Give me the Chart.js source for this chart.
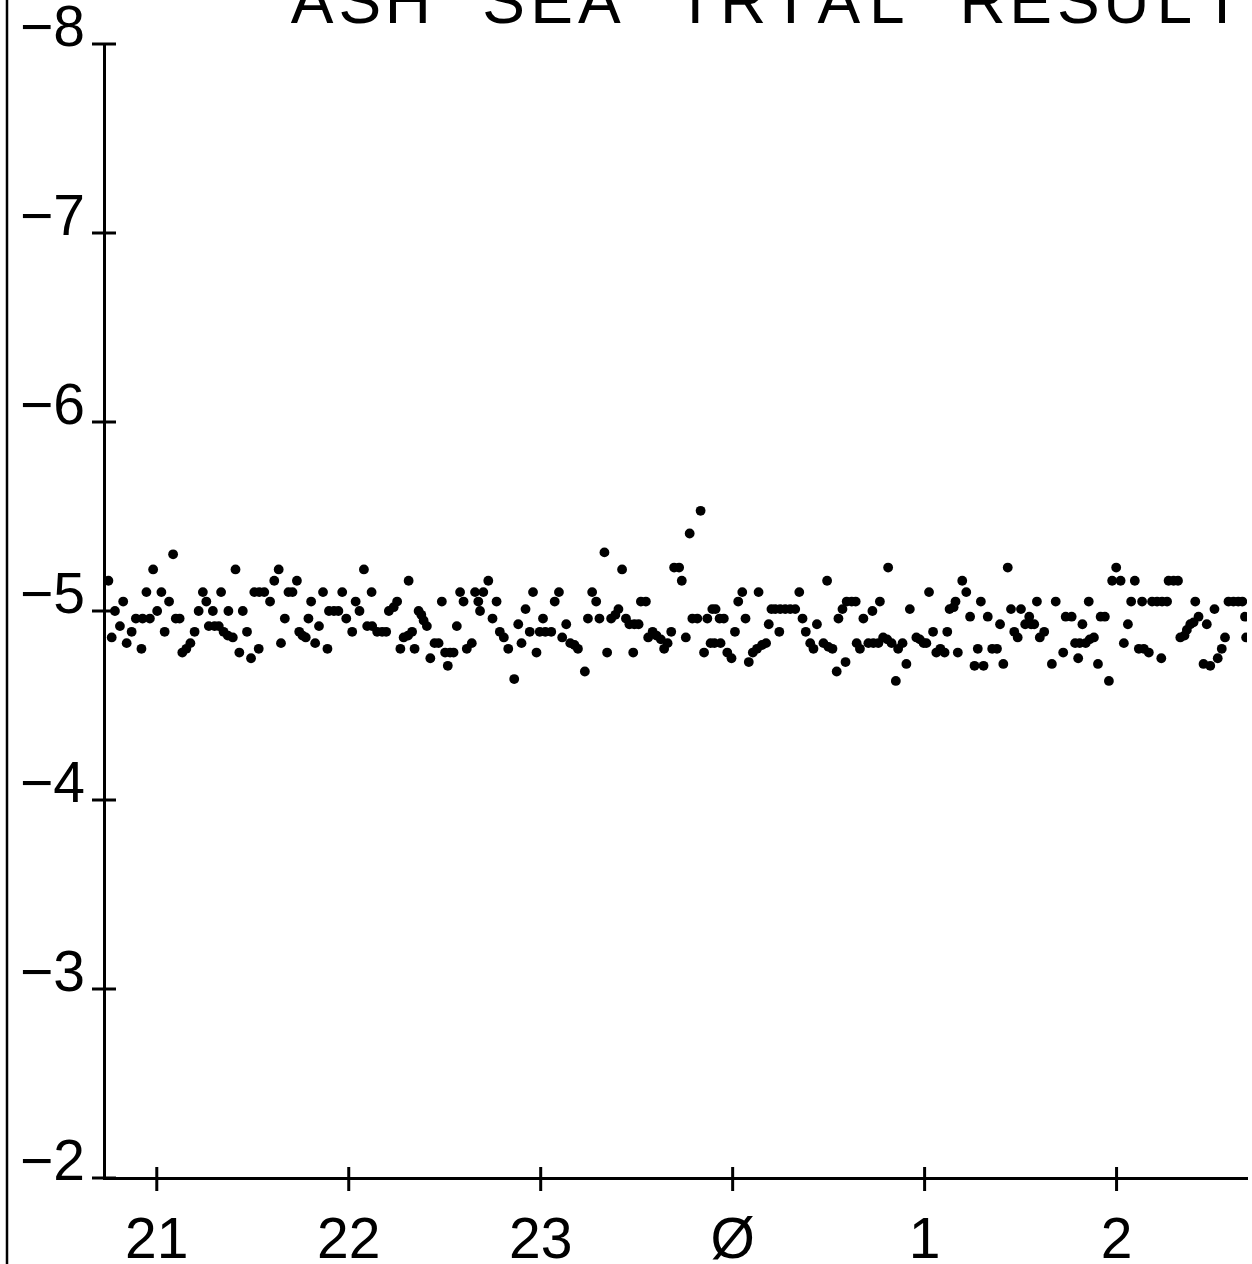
<!DOCTYPE html>
<html><head><meta charset="utf-8">
<script src="https://cdn.jsdelivr.net/npm/chart.js@4.4.1/dist/chart.umd.min.js"></script>
<style>html,body{margin:0;padding:0;background:#fff;overflow:hidden}#wrap{width:1252px;height:1264px}</style>
</head><body><div id="wrap"><canvas id="c" width="1252" height="1264"></canvas></div>
<script>
const TITLE = 'ASH SEA TRIAL RESULT';
const xTickValues = [21, 22, 23, 24, 25, 26];
const xTickLabels = ['21', '22', '23', 'Ø', '1', '2'];
const yTickValues = [-8, -7, -6, -5, -4, -3, -2];
const yTickLabels = ['−8', '−7', '−6', '−5', '−4', '−3', '−2'];

// time in hours (24 = Ø, 25 = 1, 26 = 2)
const sampleHours = [
20.748,20.782,20.765,20.825,20.808,20.843,20.869,20.891,20.920,20.946,
20.926,20.964,20.981,21.002,21.024,21.041,21.064,21.085,21.099,21.119,
21.133,21.154,21.175,21.197,21.218,21.240,21.258,21.271,21.301,21.323,
21.292,21.335,21.348,21.370,21.373,21.396,21.410,21.430,21.448,21.470,
21.491,21.508,21.534,21.560,21.531,21.590,21.612,21.635,21.647,21.667,
21.686,21.707,21.730,21.742,21.759,21.776,21.790,21.804,21.825,21.845,
21.866,21.889,21.897,21.923,21.946,21.966,21.987,22.018,22.036,22.056,
22.079,22.096,22.122,22.119,22.148,22.174,22.195,22.209,22.234,22.252,
22.269,22.286,22.309,22.330,22.312,22.343,22.364,22.378,22.390,22.407,
22.425,22.447,22.468,22.485,22.502,22.528,22.546,22.516,22.563,22.580,
22.598,22.615,22.641,22.658,22.675,22.684,22.701,
22.727,22.770,22.749,22.787,22.808,22.831,22.862,22.883,22.900,22.921,
22.943,22.960,22.978,22.995,23.024,23.055,23.012,23.073,23.095,23.112,
23.133,23.154,23.176,23.194,23.230,23.246,23.268,23.289,23.306,23.332,
23.346,23.367,23.389,23.405,23.424,23.444,23.462,23.488,23.510,23.482,
23.522,23.548,23.560,23.583,23.603,23.626,23.643,23.661,23.680,23.695,
23.721,23.735,23.756,23.776,23.790,23.816,23.833,23.851,23.868,23.894,
23.911,23.932,23.954,23.885,23.905,23.937,23.972,23.994,24.012,24.029,
24.050,24.067,24.084,24.105,24.127,24.153,24.174,24.135,24.188,24.202,
24.222,24.248,24.274,24.300,24.326,24.243,24.347,24.364,24.381,24.404,
24.421,24.439,24.473,24.499,24.520,24.492,24.542,24.551,24.572,24.594,
24.620,24.641,24.588,24.646,24.663,24.681,
24.728,24.767,24.707,24.733,24.759,24.784,24.805,24.828,24.810,24.850,
24.862,24.885,24.905,24.923,24.957,24.975,24.995,25.009,25.023,25.044,
25.061,25.082,25.104,25.118,25.130,25.151,25.161,25.173,25.196,25.217,
25.237,25.260,25.307,25.277,25.293,25.329,25.352,25.377,25.393,25.410,
25.433,25.450,25.467,25.485,25.502,25.524,25.545,25.555,25.571,25.585,
25.600,25.623,25.663,25.683,25.722,25.735,25.766,25.784,25.808,25.800,
25.822,25.839,25.860,25.882,25.855,25.903,25.917,25.939,25.960,25.977,
25.998,26.021,26.038,26.059,26.076,26.095,26.116,26.142,26.168,26.133,
26.185,26.211,26.237,26.263,26.233,26.271,26.297,26.320,26.332,26.354,
26.366,26.384,26.401,26.410,26.427,26.453,26.488,26.470,26.510,26.527,
26.548,26.565,26.583,26.609,26.634,26.655,26.669,26.675
];

const sampleValues = [
-5.16,-5.00,-4.86,-5.05,-4.92,-4.83,-4.89,-4.96,-4.80,-5.10,
-4.96,-4.96,-5.22,-5.00,-5.10,-4.89,-5.05,-5.30,-4.96,-4.96,
-4.78,-4.80,-4.83,-4.89,-5.00,-5.10,-5.05,-4.92,-4.92,-4.92,
-5.00,-5.10,-4.89,-4.87,-5.00,-4.86,-5.22,-4.78,-5.00,-4.89,
-4.75,-5.10,-5.10,-5.10,-4.80,-5.05,-5.16,-5.22,-4.83,-4.96,
-5.10,-5.10,-5.16,-4.89,-4.87,-4.86,-4.96,-5.05,-4.83,-4.92,
-5.10,-4.80,-5.00,-5.00,-5.00,-5.10,-4.96,-4.89,-5.05,-5.00,
-5.22,-4.92,-4.92,-5.10,-4.89,-4.89,-4.89,-5.00,-5.02,-5.05,
-4.80,-4.86,-4.87,-4.89,-5.16,-4.80,-5.00,-4.98,-4.95,-4.92,
-4.75,-4.83,-4.83,-5.05,-4.78,-4.78,-4.78,-4.71,-4.92,-5.10,
-5.05,-4.80,-4.83,-5.10,-5.05,-5.00,-5.10,
-5.16,-5.05,-4.96,-4.89,-4.86,-4.80,-4.64,-4.93,-4.83,-5.01,
-4.89,-5.10,-4.78,-4.89,-4.89,-4.89,-4.96,-5.05,-5.10,-4.86,
-4.93,-4.83,-4.82,-4.80,-4.68,-4.96,-5.10,-5.05,-4.96,-5.31,
-4.78,-4.96,-4.98,-5.01,-5.22,-4.96,-4.93,-4.93,-4.93,-4.78,
-5.05,-5.05,-4.86,-4.89,-4.87,-4.85,-4.80,-4.83,-4.89,-5.23,
-5.23,-5.16,-4.86,-5.41,-4.96,-4.96,-5.53,-4.78,-4.96,-5.01,
-5.01,-4.96,-4.96,-4.83,-4.83,-4.83,-4.78,-4.75,-4.89,-5.05,
-5.10,-4.96,-4.73,-4.78,-4.80,-4.82,-4.83,-5.10,-4.93,-5.01,
-5.01,-5.01,-5.01,-5.01,-5.01,-4.89,-5.10,-4.96,-4.89,-4.83,
-4.80,-4.93,-4.83,-4.81,-4.80,-5.16,-4.68,-4.96,-5.01,-5.05,
-5.05,-5.05,-4.73,-4.83,-4.80,-4.96,
-5.00,-5.05,-4.83,-4.83,-4.83,-4.86,-4.85,-4.83,-5.23,-4.63,
-4.80,-4.83,-4.72,-5.01,-4.86,-4.85,-4.83,-4.83,-5.10,-4.89,
-4.78,-4.80,-4.78,-4.89,-5.01,-5.02,-5.05,-4.78,-5.16,-5.10,
-4.97,-4.71,-4.71,-4.80,-5.05,-4.97,-4.80,-4.80,-4.93,-4.72,
-5.23,-5.01,-4.89,-4.86,-5.01,-4.93,-4.97,-4.93,-4.93,-5.05,
-4.86,-4.89,-4.72,-5.05,-4.78,-4.97,-4.97,-4.83,-4.83,-4.75,
-4.93,-4.83,-4.85,-4.86,-5.05,-4.72,-4.97,-4.97,-4.63,-5.16,
-5.23,-5.16,-4.83,-4.93,-5.05,-5.16,-4.80,-4.80,-4.78,-5.05,
-5.05,-5.05,-5.05,-5.05,-4.75,-5.16,-5.16,-5.16,-4.86,-4.87,
-4.90,-4.93,-4.94,-5.05,-4.97,-4.72,-4.71,-4.93,-5.01,-4.75,
-4.80,-4.86,-5.05,-5.05,-5.05,-5.05,-4.97,-4.86
];

const FONT = '"Liberation Sans", Arial, sans-serif';

const decor = {
  id: 'decor',
  beforeDraw(chart) {
    const c = chart.ctx; c.save(); c.fillStyle = '#fff'; c.fillRect(0, 0, chart.width, chart.height); c.restore();
  },
  afterDraw(chart) {
    const ctx = chart.ctx, a = chart.chartArea, xs = chart.scales.x, ys = chart.scales.y;
    ctx.save();
    ctx.strokeStyle = '#000'; ctx.lineWidth = 3;
    ys.ticks.forEach(t => {
      const p = ys.getPixelForValue(t.value);
      ctx.beginPath(); ctx.moveTo(a.left - 12, p); ctx.lineTo(a.left + 12, p); ctx.stroke();
    });
    xs.ticks.forEach(t => {
      const p = xs.getPixelForValue(t.value);
      ctx.beginPath(); ctx.moveTo(p, a.bottom - 11); ctx.lineTo(p, a.bottom + 13); ctx.stroke();
    });
    ctx.lineWidth = 2.5;
    ctx.beginPath(); ctx.moveTo(7, 0); ctx.lineTo(7, chart.height); ctx.stroke();
    ctx.font = '64px ' + FONT; ctx.fillStyle = '#000'; ctx.textAlign = 'center'; ctx.textBaseline = 'alphabetic';
    [...TITLE].forEach((ch, i) => ctx.fillText(ch, 312 + i * 47.9, 23));
    ctx.restore();
  }
};

new Chart(document.getElementById('c'), {
  type: 'scatter',
  data: { datasets: [{
    data: sampleHours.map((h, i) => ({ x: h, y: sampleValues[i] })),
    pointRadius: 4.9, pointHoverRadius: 4.9, backgroundColor: '#000', borderWidth: 0, pointStyle: 'circle'
  }] },
  options: {
    responsive: false, animation: false, events: [],
    layout: { padding: { top: 44, left: 0, right: 0, bottom: 0 } },
    plugins: { legend: { display: false }, tooltip: { enabled: false }, title: { display: false } },
    scales: {
      x: {
        type: 'linear', min: 20.725, max: 26.68, position: 'bottom',
        afterBuildTicks: s => { s.ticks = xTickValues.map(v => ({ value: v })); },
        afterFit: s => { s.height = 86; s.paddingLeft = 0; s.paddingRight = 0; },
        grid: { display: false, drawTicks: false },
        border: { display: true, color: '#000', width: 3 },
        ticks: { callback: v => xTickLabels[xTickValues.indexOf(v)], font: { family: FONT, size: 57 }, color: '#000', padding: 30, maxRotation: 0, autoSkip: false }
      },
      y: {
        type: 'linear', reverse: true, min: -8, max: -2,
        afterBuildTicks: s => { s.ticks = yTickValues.map(v => ({ value: v })); },
        afterFit: s => { s.width = 104; s.paddingTop = 0; s.paddingBottom = 0; },
        grid: { display: false, drawTicks: false },
        border: { display: true, color: '#000', width: 3 },
        ticks: { callback: v => yTickLabels[yTickValues.indexOf(v)], font: { family: FONT, size: 57 }, color: '#000', padding: 19, labelOffset: -14, autoSkip: false }
      }
    }
  },
  plugins: [decor]
});
</script></body></html>
